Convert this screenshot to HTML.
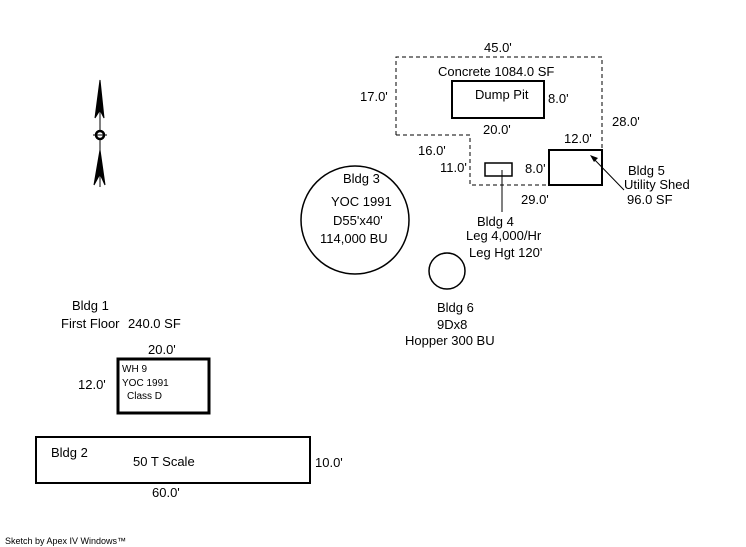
<!DOCTYPE html>
<html><head><meta charset="utf-8"><style>
body{margin:0;background:#fff}
svg{display:block}
text{font-family:"Liberation Sans",Arial,sans-serif;font-size:13px;fill:#000}
.s{font-size:10px}
</style></head><body>
<svg width="746" height="547" viewBox="0 0 746 547">
<g stroke="#000" fill="#000">
<line x1="100" y1="80" x2="100" y2="187" stroke-width="1"/>
<polygon points="100,80 95,118 100,110 104,118" />
<polygon points="100,150 94,185 100,174 105,185" />
<circle cx="100" cy="135" r="4" fill="#fff" stroke-width="2.5"/>
<line x1="93" y1="135" x2="107" y2="135"/>
</g>
<polyline points="396,135 396,57 602,57 602,150" fill="none" stroke="#000" stroke-dasharray="4,3"/>
<polyline points="396,135 470,135 470,185 549,185" fill="none" stroke="#000" stroke-dasharray="4,3"/>
<rect x="452" y="81" width="92" height="37" fill="none" stroke="#000" stroke-width="2"/>
<rect x="549" y="150" width="53" height="35" fill="none" stroke="#000" stroke-width="2"/>
<rect x="485" y="163" width="27" height="13" fill="none" stroke="#000" stroke-width="1.5"/>
<line x1="502" y1="170" x2="502" y2="212" stroke="#000"/>
<line x1="624" y1="190" x2="592" y2="157" stroke="#000"/>
<polygon points="590,155 598,158 594,162" fill="#000"/>
<circle cx="355" cy="220" r="54" fill="none" stroke="#000" stroke-width="1.5"/>
<circle cx="447" cy="271" r="18" fill="none" stroke="#000" stroke-width="1.5"/>
<rect x="118" y="359" width="91" height="54" fill="none" stroke="#000" stroke-width="3"/>
<rect x="36" y="437" width="274" height="46" fill="none" stroke="#000" stroke-width="2"/>
<text x="484" y="52">45.0'</text>
<text x="438" y="76">Concrete 1084.0 SF</text>
<text x="475" y="99">Dump Pit</text>
<text x="548" y="103">8.0'</text>
<text x="360" y="101">17.0'</text>
<text x="483" y="134">20.0'</text>
<text x="612" y="126">28.0'</text>
<text x="564" y="143">12.0'</text>
<text x="418" y="155">16.0'</text>
<text x="440" y="172">11.0'</text>
<text x="525" y="173">8.0'</text>
<text x="521" y="204">29.0'</text>
<text x="628" y="175">Bldg 5</text>
<text x="624" y="189">Utility Shed</text>
<text x="627" y="204">96.0 SF</text>
<text x="343" y="183">Bldg 3</text>
<text x="331" y="206">YOC 1991</text>
<text x="333" y="225">D55'x40'</text>
<text x="320" y="243">114,000 BU</text>
<text x="477" y="226">Bldg 4</text>
<text x="466" y="240">Leg 4,000/Hr</text>
<text x="469" y="257">Leg Hgt 120'</text>
<text x="437" y="312">Bldg 6</text>
<text x="437" y="329">9Dx8</text>
<text x="405" y="345">Hopper 300 BU</text>
<text x="72" y="310">Bldg 1</text>
<text x="61" y="328">First Floor</text>
<text x="128" y="328">240.0 SF</text>
<text x="148" y="354">20.0'</text>
<text x="78" y="389">12.0'</text>
<text class="s" x="122" y="372">WH 9</text>
<text class="s" x="122" y="386">YOC 1991</text>
<text class="s" x="127" y="399">Class D</text>
<text x="51" y="457">Bldg 2</text>
<text x="133" y="466">50 T Scale</text>
<text x="315" y="467">10.0'</text>
<text x="152" y="497">60.0'</text>
<text class="s" x="5" y="544" style="font-size:9px">Sketch by Apex IV Windows™</text>
</svg>
</body></html>
